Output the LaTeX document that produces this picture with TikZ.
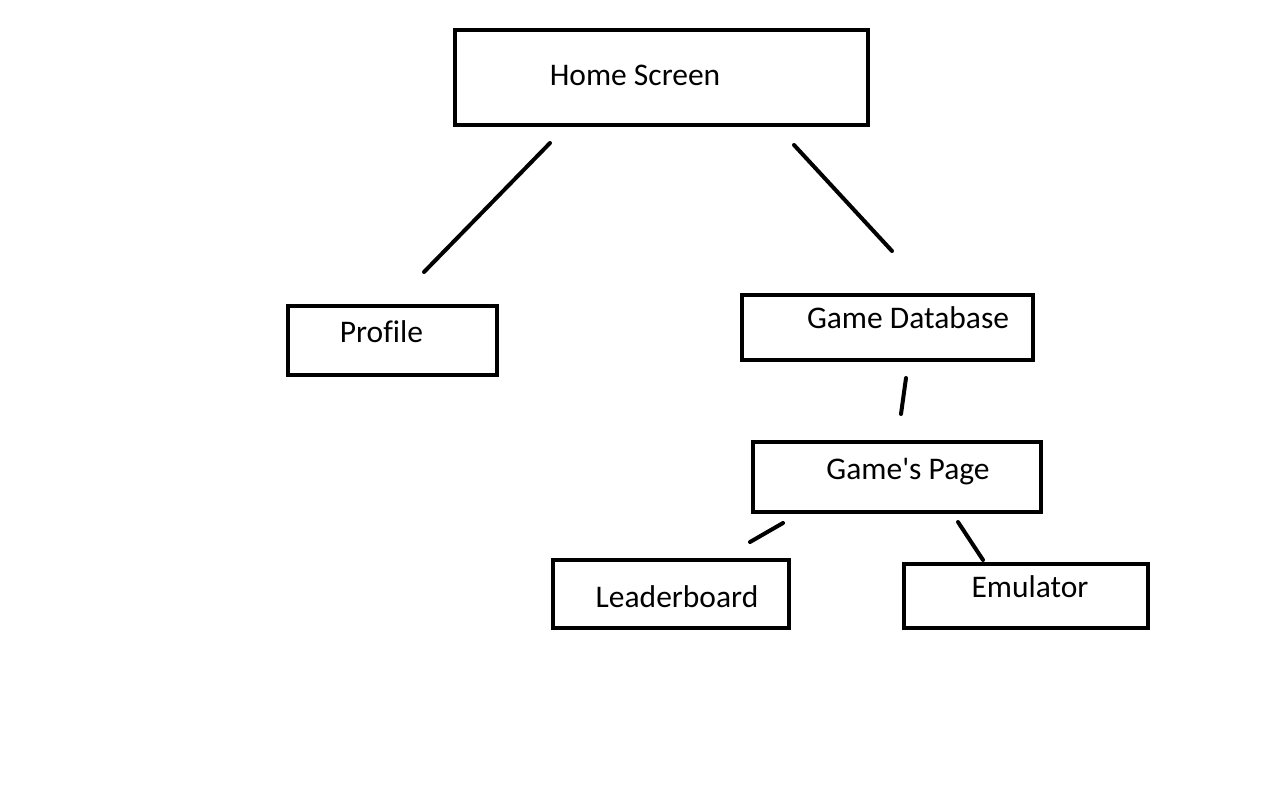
\documentclass[tikz,border=0pt]{standalone}
\usepackage{fontspec}
\setmainfont{Carlito}[Ligatures={NoCommon}]
\begin{document}
\begin{tikzpicture}[x=1pt,y=-1pt,
  box/.style={draw=black,line width=4pt,rectangle,inner sep=0pt,minimum width=#1},
  lbl/.style={anchor=base,inner sep=0pt,font=\fontsize{31.5}{36}\selectfont},
  conn/.style={line width=4pt,line cap=round}]
\fill[white] (0,0) rectangle (1276,784);
\useasboundingbox (0,0) rectangle (1276,784);
% boxes
\node[box=413pt,minimum height=95pt] (home) at (661.5,77.5) {};
\node[box=209pt,minimum height=69pt] (profile) at (392.5,340.5) {};
\node[box=291pt,minimum height=65pt] (gdb) at (887.5,327.5) {};
\node[box=288pt,minimum height=70pt] (gpage) at (897,477) {};
\node[box=236pt,minimum height=68pt] (leader) at (671,594) {};
\node[box=244pt,minimum height=64pt] (emu) at (1026,596) {};
% labels
\node[lbl] (thome) at (635,85) {Home Screen};
\node[lbl] (tprofile) at (381.5,342) {Profile};
\node[lbl] (tgdb) at (908,328) {Game Database};
\node[lbl] (tgpage) at (908,479) {Game\textquotesingle s Page};
\node[lbl] (tleader) at (677,607) {Leaderboard};
\node[lbl] (temu) at (1030,597) {Emulator};
% connector ends
\coordinate (c1a) at (550,143); \coordinate (c1b) at (424,272);
\coordinate (c2a) at (794,145); \coordinate (c2b) at (892,251);
\coordinate (c3a) at (906,378); \coordinate (c3b) at (901,414);
\coordinate (c4a) at (783,523); \coordinate (c4b) at (750,542);
\coordinate (c5a) at (958,522); \coordinate (c5b) at (983,560);
\draw[conn] (c1a) -- (c1b);
\draw[conn] (c2a) -- (c2b);
\draw[conn] (c3a) -- (c3b);
\draw[conn] (c4a) -- (c4b);
\draw[conn] (c5a) -- (c5b);
\end{tikzpicture}
\end{document}
